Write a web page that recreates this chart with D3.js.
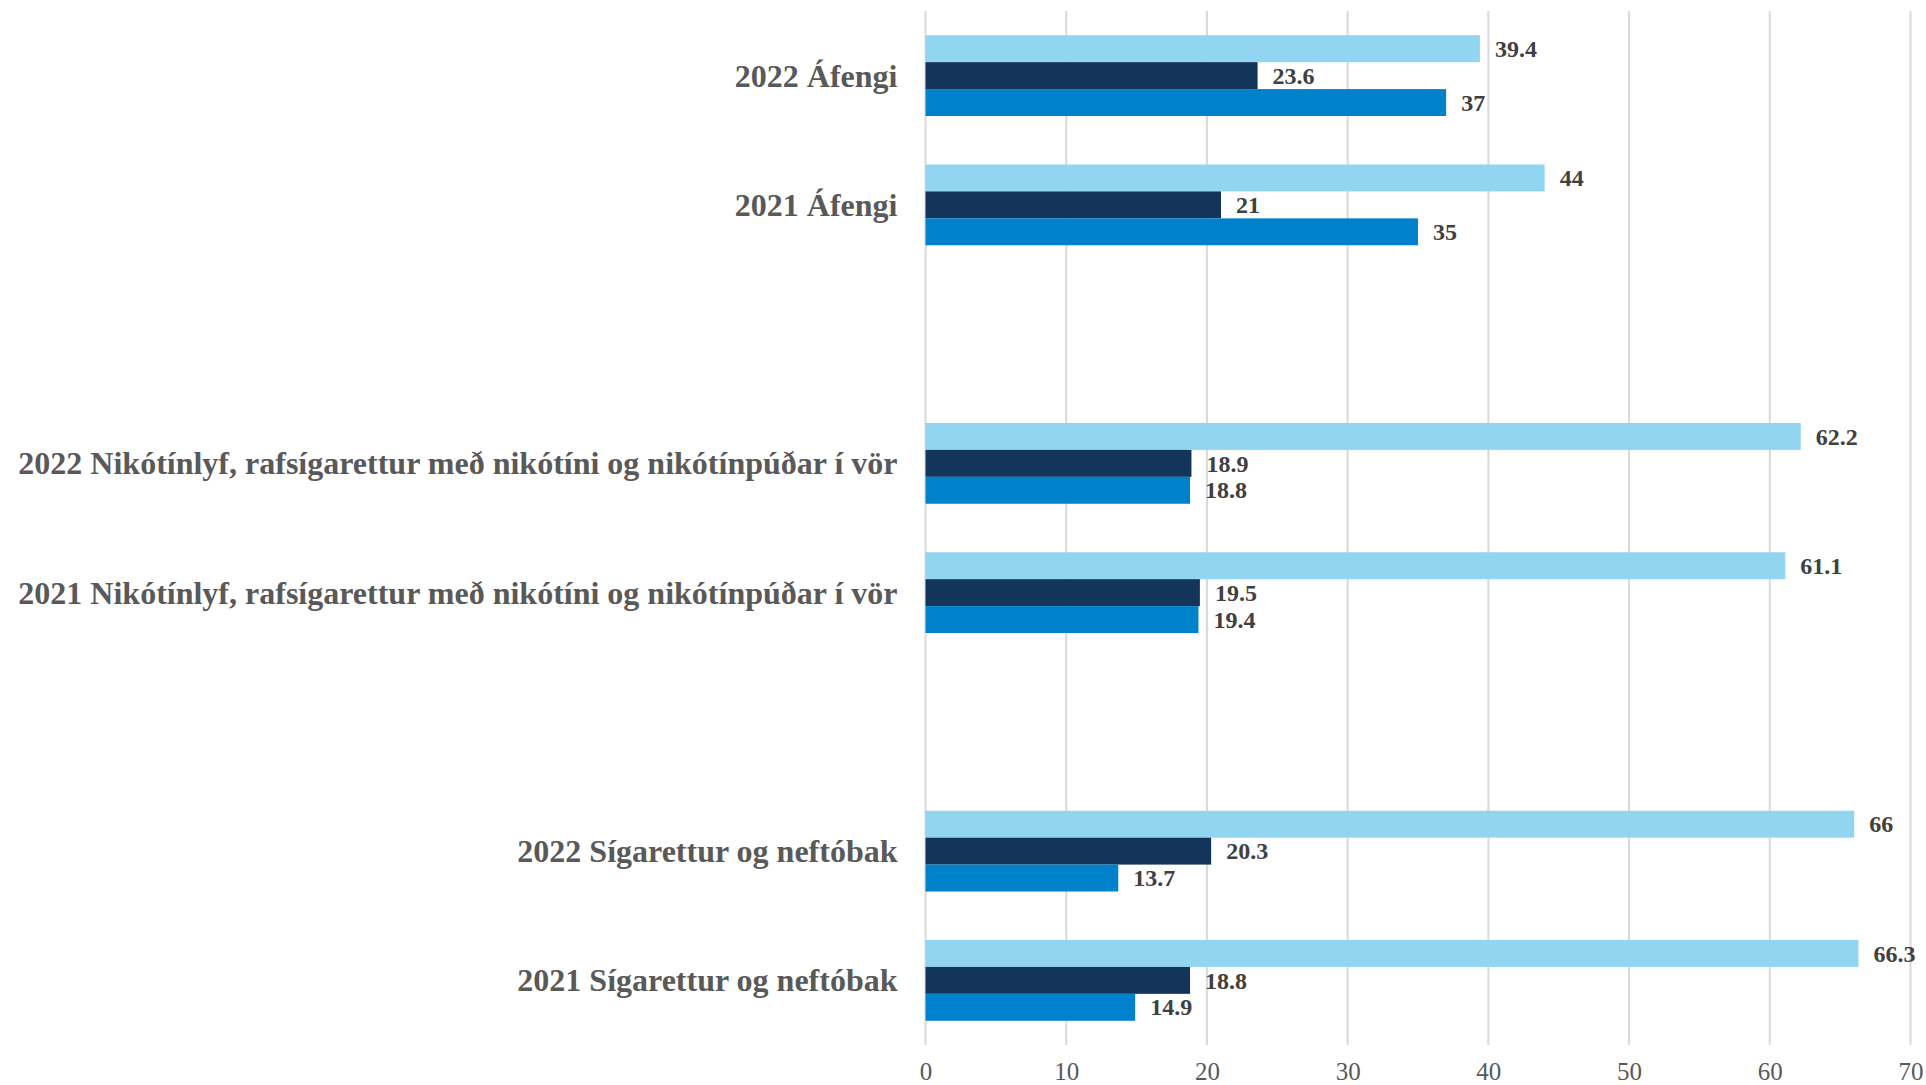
<!DOCTYPE html>
<html>
<head>
<meta charset="utf-8">
<script src="https://cdn.jsdelivr.net/npm/d3@7"></script>
<style>
  html, body { margin: 0; padding: 0; background: #ffffff; }
  svg { display: block; }
</style>
</head>
<body>
<svg id="chart" width="1926" height="1085"></svg>
<script>
// ---- data ----
const categories = [
  "2022 Áfengi",
  "2021 Áfengi",
  "",
  "2022 Nikótínlyf, rafsígarettur með nikótíni og nikótínpúðar í vör",
  "2021 Nikótínlyf, rafsígarettur með nikótíni og nikótínpúðar í vör",
  " ",
  "2022 Sígarettur og neftóbak",
  "2021 Sígarettur og neftóbak"
];
const seriesNames = ["Röð 3", "Röð 2", "Röð 1"];
const seriesLight = [39.4, 44, null, 62.2, 61.1, null, 66, 66.3];
const seriesDark  = [23.6, 21, null, 18.9, 19.5, null, 20.3, 18.8];
const seriesBlue  = [37, 35, null, 18.8, 19.4, null, 13.7, 14.9];
const seriesColors = ["#92D5F0", "#133559", "#0081CB"];
const xTicks = [0, 10, 20, 30, 40, 50, 60, 70];

const seriesValues = [seriesLight, seriesDark, seriesBlue];

// ---- layout ----
const svg = d3.select("#chart");
const plotLeft = 925.5, plotRight = 1910.5, plotTop = 11, plotBottom = 1045;

const x = d3.scaleLinear().domain([0, 70]).range([plotLeft, plotRight]);
const y = d3.scaleBand().domain(categories).range([plotTop, plotBottom])
  .paddingInner(0.375).paddingOuter(0.1875);
const ySub = d3.scaleBand().domain(seriesNames).range([0, y.bandwidth()]);

// gridlines
svg.append("g").selectAll("line").data(xTicks).join("line")
  .attr("x1", d => x(d)).attr("x2", d => x(d))
  .attr("y1", plotTop).attr("y2", plotBottom)
  .attr("stroke", "#D9D9D9").attr("stroke-width", 2);

// x axis tick labels
const xAxis = d3.axisBottom(x).tickValues(xTicks).tickSize(0).tickPadding(0);
const gx = svg.append("g").attr("transform", `translate(0, ${plotBottom})`).call(xAxis);
gx.select(".domain").remove();
gx.selectAll("text")
  .attr("y", 35).attr("dy", null)
  .attr("font-family", "'Liberation Serif', 'Times New Roman', serif")
  .attr("font-size", 25).attr("fill", "#595959");

// category labels
const yAxis = d3.axisLeft(y).tickSize(0).tickPadding(28);
const gy = svg.append("g").attr("transform", `translate(${plotLeft}, 0)`).call(yAxis);
gy.select(".domain").remove();
gy.selectAll("text")
  .attr("font-family", "'Liberation Serif', 'Times New Roman', serif")
  .attr("font-size", 32).attr("font-weight", "bold").attr("fill", "#595959")
  .attr("dy", "0.34em");

// bars
const rows = [];
categories.forEach((c, i) => {
  seriesNames.forEach((s, j) => {
    const v = seriesValues[j][i];
    if (v !== null) rows.push({ cat: c, series: s, value: v, color: seriesColors[j] });
  });
});

const gBars = svg.append("g");
gBars.selectAll("rect").data(rows).join("rect")
  .attr("x", x(0))
  .attr("y", d => y(d.cat) + ySub(d.series))
  .attr("width", d => x(d.value) - x(0))
  .attr("height", ySub.bandwidth())
  .attr("fill", d => d.color);

// value labels
gBars.selectAll("text").data(rows).join("text")
  .attr("x", d => x(d.value) + 15)
  .attr("y", d => y(d.cat) + ySub(d.series) + ySub.bandwidth() / 2)
  .attr("dy", "0.34em")
  .attr("font-family", "'Liberation Serif', 'Times New Roman', serif")
  .attr("font-size", 24).attr("font-weight", "bold").attr("fill", "#404040")
  .text(d => d.value);
</script>
</body>
</html>
